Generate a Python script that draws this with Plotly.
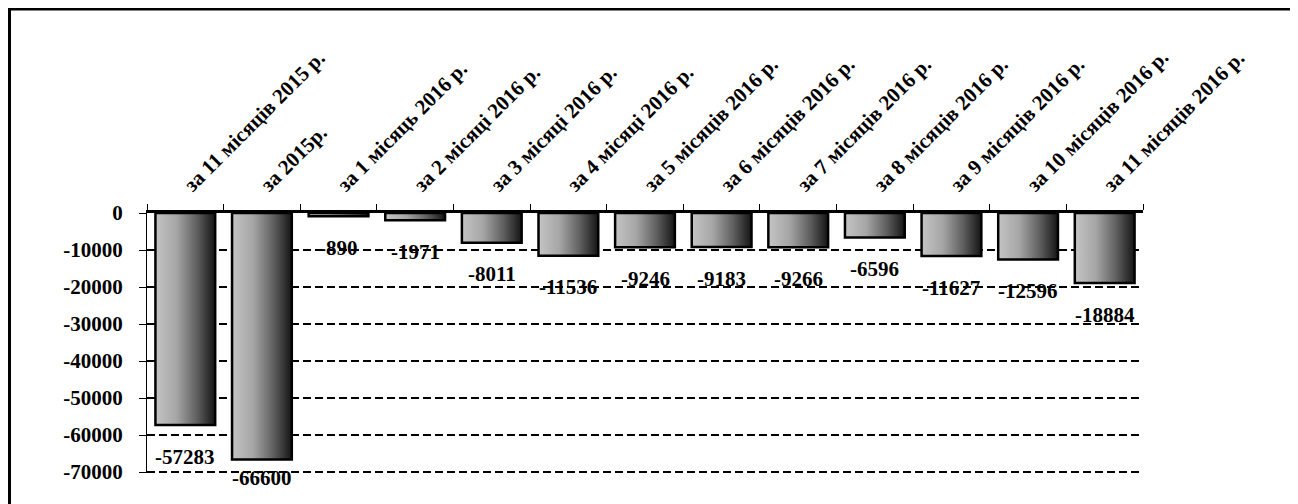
import plotly.graph_objects as go

categories = [
    "за 11 місяців 2015 р.", "за 2015р.", "за 1 місяць 2016 р.", "за 2 місяці 2016 р.",
    "за 3 місяці 2016 р.", "за 4 місяці 2016 р.", "за 5 місяців 2016 р.", "за 6 місяців 2016 р.",
    "за 7 місяців 2016 р.", "за 8 місяців 2016 р.", "за 9 місяців 2016 р.", "за 10 місяців 2016 р.",
    "за 11 місяців 2016 р.",
]
values = [-57283, -66600, -890, -1971, -8011, -11536, -9246, -9183, -9266, -6596, -11627, -12596, -18884]
y_ticks = [0, -10000, -20000, -30000, -40000, -50000, -60000, -70000]

FONT = "Liberation Serif, Times New Roman, serif"
HALF = 0.39
DASH = "8px,4px"
grad = [[0, "#c4c4c4"], [0.35, "#a6a6a6"], [0.7, "#5e5e5e"], [1, "#141414"]]

fig = go.Figure()
for i, v in enumerate(values):
    fig.add_trace(go.Scatter(
        x=[i - HALF, i - HALF, i + HALF, i + HALF, i - HALF],
        y=[0, v, v, 0, 0],
        mode="lines", fill="toself",
        fillgradient=dict(type="horizontal", colorscale=grad),
        line=dict(color="black", width=2.5),
        showlegend=False, hoverinfo="skip",
    ))

for i, v in enumerate(values):
    fig.add_annotation(
        x=i, y=max(v - 4800, -67800), text=f"{v}", showarrow=False,
        yanchor="top", xanchor="center",
        font=dict(family=FONT, size=21, color="black", weight="bold"),
    )

# page body adds 8px offset; figure coordinates are shifted accordingly
fig.update_layout(
    width=1290, height=496,
    margin=dict(l=139, r=155, t=205, b=31),
    paper_bgcolor="white", plot_bgcolor="white",
    xaxis=dict(
        range=[-0.5, len(categories) - 0.5], side="top",
        tickmode="array", tickvals=list(range(len(categories))), ticktext=categories,
        tickangle=-45, ticks="",
        tickfont=dict(family=FONT, size=21, color="black", weight="bold"),
        showline=True, linecolor="black", linewidth=2.5, showgrid=False, zeroline=False,
        ticklabelstandoff=6,
        minor=dict(tick0=-0.5, dtick=1, ticks="outside", ticklen=6, tickcolor="black", tickwidth=1),
    ),
    yaxis=dict(
        range=[-70250, 0], tickmode="array", tickvals=y_ticks, ticktext=[str(t) for t in y_ticks],
        ticks="outside", ticklen=7, tickcolor="black", tickwidth=1,
        tickfont=dict(family=FONT, size=21, color="black", weight="bold"),
        showline=True, linecolor="black", linewidth=1,
        showgrid=True, gridcolor="black", gridwidth=2, griddash=DASH,
        zeroline=False, ticklabelstandoff=12,
    ),
    shapes=[
        dict(type="line", xref="paper", yref="y", x0=0, x1=1, y0=y_ticks[-1], y1=y_ticks[-1],
             line=dict(color="black", width=2, dash=DASH), layer="below"),
        dict(type="rect", xref="paper", yref="paper",
             x0=(1.5 - 139) / 996, x1=(1288 - 139) / 996,
             y0=-0.3, y1=(465 - 1) / 260,
             line=dict(color="black", width=3), fillcolor="rgba(0,0,0,0)", layer="above"),
    ],
)

fig.write_html("out.html")
